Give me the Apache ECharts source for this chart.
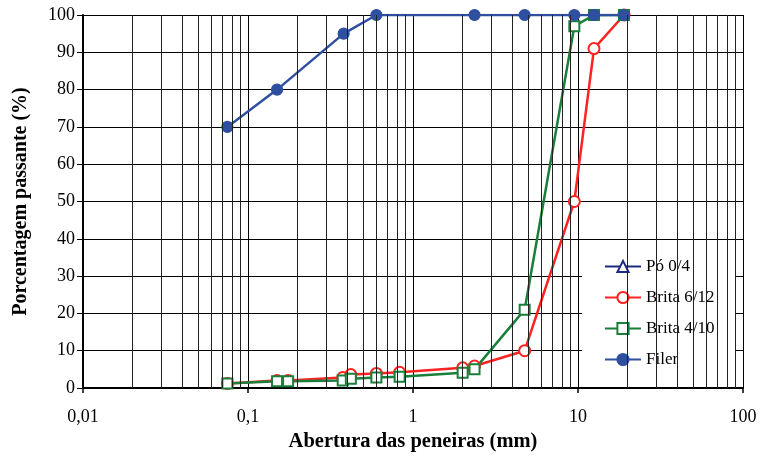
<!DOCTYPE html>
<html>
<head>
<meta charset="utf-8">
<script src="https://cdn.jsdelivr.net/npm/echarts@6/dist/echarts.min.js"></script>
<style>
    html, body { margin: 0; padding: 0; background: #fff; }
    #chart { width: 760px; height: 456px; }
</style>
</head>
<body>
<div id="chart"></div>
<script>
    // abertura das peneiras (mm) e porcentagem passante (%)
    var seriesNames = ['Pó 0/4', 'Brita 6/12', 'Brita 4/10', 'Filer'];

    var sievesPo = [];
    var passPo = [];

    var sievesBrita612 = [0.075, 0.15, 0.175, 0.375, 0.42, 0.6, 0.83, 2.0, 2.36, 4.75, 9.5, 12.5, 19];
    var passBrita612 = [1.2, 2.0, 2.0, 2.8, 3.6, 3.9, 4.2, 5.4, 5.9, 10, 50, 91, 100];

    var sievesBrita410 = [0.075, 0.15, 0.175, 0.375, 0.42, 0.6, 0.83, 2.0, 2.36, 4.75, 9.5, 12.5, 19];
    var passBrita410 = [1.2, 1.8, 1.8, 2.0, 2.5, 2.8, 3.0, 4.1, 5.0, 21, 97, 100, 100];

    var sievesFiler = [0.075, 0.15, 0.38, 0.6, 2.36, 4.75, 9.5, 12.5, 19];
    var passFiler = [70, 80, 95, 100, 100, 100, 100, 100, 100];

    var decades = [0.01, 0.1, 1, 10];
    var minorSteps = [2, 3, 4, 5, 6, 7, 8, 9];

    var serifFont = '"Liberation Serif", "DejaVu Serif", serif';

    function pairs(xs, ys) {
        return xs.map(function(x, i) { return [x, ys[i]]; });
    }

    // linhas de grade secundárias do eixo log (2..9 em cada década)
    var minorLines = [];
    decades.forEach(function(d) {
        minorSteps.forEach(function(k) {
            minorLines.push({ xAxis: +(d * k).toPrecision(6) });
        });
    });

    function lineSeries(name, xs, ys, color, symbol, size) {
        return {
            name: name,
            type: 'line',
            data: pairs(xs, ys),
            symbol: symbol,
            symbolSize: size,
            showSymbol: true,
            lineStyle: { color: color, width: 2.5 },
            itemStyle: { color: color, borderColor: color, borderWidth: 1.2 },
            animation: false
        };
    }

    var chart = echarts.init(document.getElementById('chart'));

    chart.setOption({
        backgroundColor: '#fff',
        animation: false,
        grid: { left: 83, right: 17, top: 15, bottom: 68, containLabel: false, outerBoundsMode: 'none' },
        legend: {
            data: seriesNames,
            orient: 'vertical',
            left: 582,
            top: 250,
            padding: [8, 21, 7, 22],
            itemGap: 14,
            itemWidth: 36,
            itemHeight: 14,
            backgroundColor: '#fff',
            textStyle: { fontFamily: serifFont, fontSize: 17, color: '#000', lineHeight: 16 }
        },
        xAxis: {
            type: 'log',
            logBase: 10,
            min: 0.01,
            max: 100,
            name: 'Abertura das peneiras (mm)',
            nameLocation: 'middle',
            nameGap: 41,
            nameTextStyle: { fontFamily: serifFont, fontSize: 20.5, fontWeight: 'bold', color: '#000' },
            axisLine: { onZero: false, lineStyle: { color: '#000', width: 2 } },
            axisTick: { inside: false, length: 5, lineStyle: { color: '#000', width: 1.5 } },
            axisLabel: {
                fontFamily: serifFont, fontSize: 18, color: '#000', margin: 20,
                formatter: function(v) {
                    return String(+(+v).toPrecision(6)).replace('.', ',');
                }
            },
            splitLine: { show: true, lineStyle: { color: '#000', width: 1 } }
        },
        yAxis: {
            type: 'value',
            min: 0,
            max: 100,
            interval: 10,
            name: 'Porcentagem passante (%)',
            nameLocation: 'middle',
            nameGap: 52,
            nameTextStyle: { fontFamily: serifFont, fontSize: 20, fontWeight: 'bold', color: '#000' },
            axisLine: { show: true, lineStyle: { color: '#000', width: 2 } },
            axisTick: { show: true, length: 6, lineStyle: { color: '#000', width: 1 } },
            axisLabel: { fontFamily: serifFont, fontSize: 18, color: '#000', margin: 8 },
            splitLine: { show: true, lineStyle: { color: '#000', width: 1 } }
        },
        series: [
            {
                name: 'grade',
                type: 'line',
                data: [],
                silent: true,
                z: 1,
                markLine: {
                    silent: true,
                    symbol: 'none',
                    label: { show: false },
                    lineStyle: { color: '#222', width: 1, type: 'solid' },
                    data: minorLines,
                    animation: false
                }
            },
            lineSeries(seriesNames[0], sievesPo, passPo, '#1c2a80', 'emptyTriangle', 11),
            lineSeries(seriesNames[1], sievesBrita612, passBrita612, '#ff2222', 'emptyCircle', 11),
            lineSeries(seriesNames[2], sievesBrita410, passBrita410, '#1a7f3a', 'emptyRect', 10),
            lineSeries(seriesNames[3], sievesFiler, passFiler, '#2f4fa0', 'circle', 11)
        ]
    });
</script>
</body>
</html>
